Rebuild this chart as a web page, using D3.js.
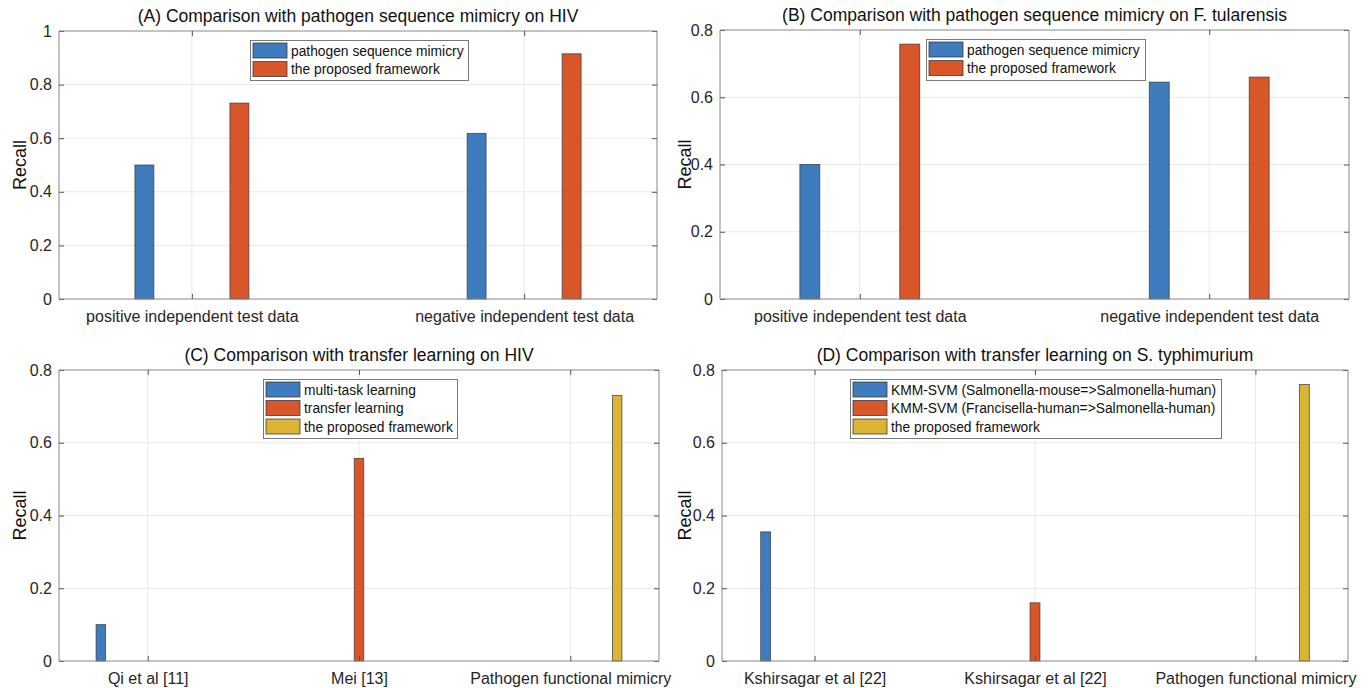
<!DOCTYPE html>
<html>
<head>
<meta charset="utf-8">
<script src="https://cdn.jsdelivr.net/npm/d3@7"></script>
<style>
	body { margin: 0; background: #fff; }
	svg { display: block; font-family: "Liberation Sans", Arial, sans-serif; }
</style>
</head>
<body>
<div id="chart"></div>
<script>
// data
var catsAB = ["positive independent test data", "negative independent test data"];
var seriesAB = ["pathogen sequence mimicry", "the proposed framework"];
var recallA = [[0.5, 0.618], [0.731, 0.915]];
var recallB = [[0.4, 0.645], [0.758, 0.66]];

var catsC = ["Qi et al [11]", "Mei [13]", "Pathogen functional mimicry"];
var seriesC = ["multi-task learning", "transfer learning", "the proposed framework"];
var recallC = [[0.1, 0, 0], [0, 0.557, 0], [0, 0, 0.73]];

var catsD = ["Kshirsagar et al [22]", "Kshirsagar et al [22]", "Pathogen functional mimicry"];
var seriesD = ["KMM-SVM (Salmonella-mouse=>Salmonella-human)", "KMM-SVM (Francisella-human=>Salmonella-human)", "the proposed framework"];
var recallD = [[0.355, 0, 0], [0, 0.16, 0], [0, 0, 0.76]];

var ticksA = [0, 0.2, 0.4, 0.6, 0.8, 1];
var ticks08 = [0, 0.2, 0.4, 0.6, 0.8];

var colors = ["#3f7cbd", "#d8562a", "#dcb434"];

var width = 1370, height = 688;

var svg = d3.select("#chart").append("svg")
	.attr("width", width)
	.attr("height", height);

var panels = [
	{title: "(A) Comparison with pathogen sequence mimicry on HIV", cats: catsAB, series: seriesAB, values: recallA,
		ticks: ticksA, ymax: 1, box: [59, 31, 657, 299], legend: [250, 40, 468, 80], labelX: 26},
	{title: "(B) Comparison with pathogen sequence mimicry on F. tularensis", cats: catsAB, series: seriesAB, values: recallB,
		ticks: ticks08, ymax: 0.8, box: [720, 30, 1349, 299], legend: [926, 39, 1145, 80], labelX: 691},
	{title: "(C) Comparison with transfer learning on HIV", cats: catsC, series: seriesC, values: recallC,
		ticks: ticks08, ymax: 0.8, box: [59, 370, 659, 661], legend: [263, 379, 457, 438], labelX: 26},
	{title: "(D) Comparison with transfer learning on S. typhimurium", cats: catsD, series: seriesD, values: recallD,
		ticks: ticks08, ymax: 0.8, box: [722, 370, 1348, 661], legend: [850, 379, 1221, 438], labelX: 691}
];

panels.forEach(drawPanel);

function drawPanel(p) {
	var [x0, y0, x1, y1] = p.box;
	var n = p.cats.length;
	var pad = n == 2 ? 0.4 : 0.42;
	// matlab style grouped bars: offsets and width per series count
	var offsets = n == 2 ? [-0.143, 0.143] : [-0.222, 0, 0.222];
	var barW = n == 2 ? 0.057 : 0.045;

	var x = d3.scaleLinear().domain([1 - pad, n + pad]).range([x0, x1]);
	var y = d3.scaleLinear().domain([0, p.ymax]).range([y1, y0]);

	var g = svg.append("g");

	// grid
	g.append("g").selectAll("line")
		.data(p.ticks.slice(1, -1))
		.join("line")
		.attr("x1", x0).attr("x2", x1)
		.attr("y1", d => y(d)).attr("y2", d => y(d))
		.attr("stroke", "#e8e8e8");
	g.append("g").selectAll("line")
		.data(d3.range(1, n + 1))
		.join("line")
		.attr("x1", d => x(d)).attr("x2", d => x(d))
		.attr("y1", y0).attr("y2", y1)
		.attr("stroke", "#e8e8e8");

	// bars
	p.series.forEach((s, si) => {
		g.append("g").selectAll("rect")
			.data(p.values[si].map((v, ci) => ({ci: ci + 1, v: v})).filter(d => d.v > 0))
			.join("rect")
			.attr("x", d => x(d.ci + offsets[si] - barW / 2))
			.attr("width", d => x(d.ci + barW) - x(d.ci))
			.attr("y", d => y(d.v))
			.attr("height", d => y(0) - y(d.v))
			.attr("fill", colors[si])
			.attr("stroke", "#333")
			.attr("stroke-opacity", 0.75)
			.attr("stroke-width", 0.9);
	});

	// axes
	var yAxis = d3.axisLeft(y).tickValues(p.ticks).tickSize(-5).tickPadding(7)
		.tickFormat(d => d3.format("")(+d.toFixed(1)));
	var ya = g.append("g").attr("transform", `translate(${x0},0)`).call(yAxis);
	var yr = g.append("g").attr("transform", `translate(${x1},0)`)
		.call(d3.axisRight(y).tickValues(p.ticks).tickSize(-5).tickFormat(""));
	var xAxis = d3.axisBottom(x).tickValues(d3.range(1, n + 1)).tickSize(-5).tickPadding(12)
		.tickFormat(d => p.cats[d - 1]);
	var xa = g.append("g").attr("transform", `translate(0,${y1})`).call(xAxis);
	var xt = g.append("g").attr("transform", `translate(0,${y0})`)
		.call(d3.axisTop(x).tickValues(d3.range(1, n + 1)).tickSize(-5).tickFormat(""));

	[ya, yr, xa, xt].forEach(a => {
		a.select(".domain").attr("stroke", "#888");
		a.selectAll(".tick line").attr("stroke", "#555");
		a.selectAll("text").attr("fill", "#262626").style("font-size", "16px");
	});
	ya.select(".domain").attr("d", `M0,${y1}V${y0}`);
	yr.select(".domain").attr("d", `M0,${y1}V${y0}`);
	xa.select(".domain").attr("d", `M${x0},0H${x1}`);
	xt.select(".domain").attr("d", `M${x0},0H${x1}`);

	// title + y label
	g.append("text")
		.attr("x", (x0 + x1) / 2)
		.attr("y", y0 - 9)
		.attr("text-anchor", "middle")
		.attr("fill", "#111")
		.style("font-size", "17.5px")
		.text(p.title);
	g.append("text")
		.attr("transform", `translate(${p.labelX},${(y0 + y1) / 2}) rotate(-90)`)
		.attr("text-anchor", "middle")
		.attr("fill", "#111")
		.style("font-size", "18px")
		.text("Recall");

	// legend
	var [lx0, ly0, lx1, ly1] = p.legend;
	var lg = g.append("g");
	lg.append("rect")
		.attr("x", lx0 + 0.5).attr("y", ly0 + 0.5)
		.attr("width", lx1 - lx0).attr("height", ly1 - ly0)
		.attr("fill", "#fff").attr("stroke", "#777");
	var rowH = 18.5;
	var row = lg.selectAll(".row")
		.data(p.series)
		.join("g")
		.attr("transform", (d, i) => `translate(${lx0 + 3},${ly0 + 3 + i * rowH})`);
	row.append("rect")
		.attr("width", 34).attr("height", 15)
		.attr("fill", (d, i) => colors[i])
		.attr("stroke", "#333").attr("stroke-opacity", 0.75);
	row.append("text")
		.attr("x", 38).attr("y", 12.5)
		.attr("fill", "#111")
		.style("font-size", "13.8px")
		.text(d => d);
}
</script>
</body>
</html>
